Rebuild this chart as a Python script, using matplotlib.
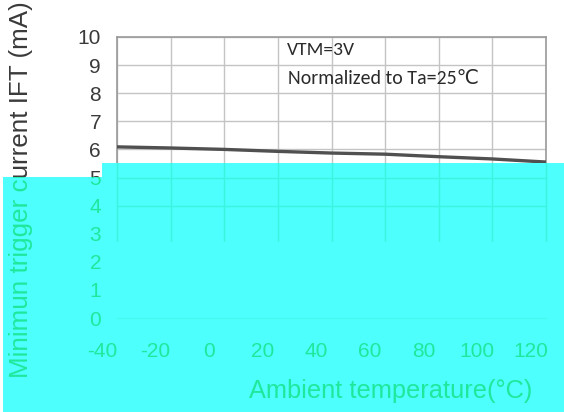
import numpy as np
import matplotlib
matplotlib.use('Agg')
import matplotlib.pyplot as plt
from matplotlib.transforms import ScaledTranslation, Bbox
from matplotlib.patches import Polygon

plt.rcParams['axes.unicode_minus'] = False

# ---- data ----
temperature = [-40, -20, 0, 20, 40, 60, 80, 100, 120]
ift = [6.09, 6.05, 6.00, 5.93, 5.87, 5.83, 5.74, 5.66, 5.55]
x_ticks = [-40, -20, 0, 20, 40, 60, 80, 100, 120]
y_ticks = [0, 1, 2, 3, 4, 5, 6, 7, 8, 9, 10]
x_label = 'Ambient temperature(°C)'
y_label = 'Minimun trigger current IFT (mA)'
note1 = 'VTM=3V'
note2 = 'Normalized to Ta=25℃'

W, H, DPI = 564, 412, 100
fig = plt.figure(figsize=(W / DPI, H / DPI), dpi=DPI)
fig.patch.set_facecolor('white')
rect = [117 / W, 94 / H, 429 / W, 281 / H]

TICK_FONT = ['Liberation Sans', 'DejaVu Sans']
NOTE_FONT = ['Carlito', 'Lato', 'DejaVu Sans']


def setup(ax, text_color, grid_color):
    ax.set_xlim(-40, 120)
    ax.set_ylim(0, 10)
    ax.set_xticks(x_ticks)
    ax.set_yticks(y_ticks)
    ax.grid(True, color=grid_color, lw=1.0)
    ax.set_axisbelow(True)
    ax.tick_params(axis='both', length=0, labelsize=15, labelcolor=text_color)
    ax.tick_params(axis='y', pad=11.5)
    ax.tick_params(axis='x', pad=17)
    for lab in ax.get_xticklabels() + ax.get_yticklabels():
        lab.set_fontfamily(TICK_FONT)
    off = ScaledTranslation(-15 / DPI, 0, fig.dpi_scale_trans)
    for lab in ax.get_xticklabels():
        lab.set_transform(lab.get_transform() + off)
    ax.set_ylabel(y_label, fontsize=18.7, family=TICK_FONT, color=text_color, va='center')
    ax.yaxis.set_label_coords((21 - 117) / 429, (222 - 94) / 281)
    ax.set_xlabel(x_label, fontsize=18.3, family=TICK_FONT, color=text_color, va='center')
    ax.xaxis.set_label_coords((391 - 117) / 429, (21 - 94) / 281)


# ---- main chart ----
ax = fig.add_axes(rect, zorder=0)
ax.set_facecolor('white')
setup(ax, '#3a3a3a', '#c4c4c4')
for s in ax.spines.values():
    s.set_color('#9a9a9a')
    s.set_linewidth(1.2)
ax.plot(temperature, ift, color='#505050', lw=2.4, solid_capstyle='butt', zorder=3)
ax.text(23.4, 9.54, note1, va='center', ha='left', fontsize=14, family=NOTE_FONT, color='#2a2a2a')
ax.text(23.6, 8.54, note2, va='center', ha='left', fontsize=14.3, family=NOTE_FONT, color='#2a2a2a')

# ---- cyan overlay region ----
pts_img = [(102, 163), (564, 163), (564, 412), (3, 412), (3, 177), (102, 177)]
pts = [(x / W, 1 - y / H) for x, y in pts_img]
poly = Polygon(pts, closed=True, transform=fig.transFigure,
               facecolor='#4dfffd', edgecolor='none', zorder=5)
fig.add_artist(poly)

# ---- elements showing through the overlay ----
ax2 = fig.add_axes(rect, zorder=10)
ax2.set_facecolor('none')
setup(ax2, '#1fe89c', '#3af4de')
for name, s in ax2.spines.items():
    s.set_visible(name == 'bottom')
ax2.spines['bottom'].set_color('#45fbea')

bbox_ylab = Bbox([[3, 0], [102, H - 177]])
bbox_xlab = Bbox([[3, 0], [564, H - 177]])
bbox_vgrid = Bbox([[102, 170], [564, H - 163]])
bbox_hgrid = Bbox([[102, 192], [564, H - 163]])
for lab in ax2.get_yticklabels() + [ax2.yaxis.label]:
    lab.set_clip_on(True)
    lab.set_clip_box(bbox_ylab)
for lab in ax2.get_xticklabels() + [ax2.xaxis.label]:
    lab.set_clip_on(True)
    lab.set_clip_box(bbox_xlab)
for gl in ax2.get_xgridlines():
    gl.set_clip_on(True)
    gl.set_clip_box(bbox_vgrid)
for gl in ax2.get_ygridlines():
    gl.set_clip_on(True)
    gl.set_clip_box(bbox_hgrid)

fig.savefig('out.png', dpi=DPI, facecolor='white')
